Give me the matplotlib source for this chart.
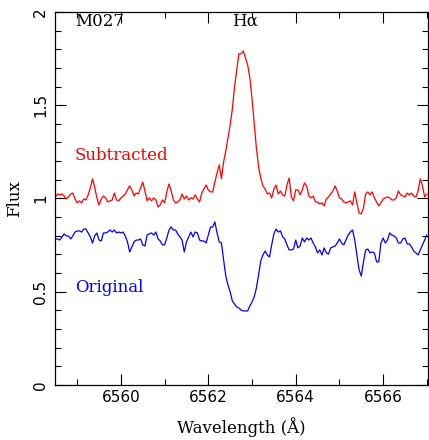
import numpy as np
import matplotlib
matplotlib.use('Agg')
import matplotlib.pyplot as plt
from matplotlib.ticker import MultipleLocator

# H-alpha profile of M027, sampled every 0.05 A
wave = np.arange(6558.50, 6567.001, 0.05)

flux_sub = [
    1.008, 1.024, 1.019, 1.024, 1.013, 0.997, 1.008, 1.024, 1.029, 0.997,
    0.976, 0.987, 0.976, 0.997, 0.992, 1.019, 1.056, 1.105, 1.062, 1.003,
    0.965, 0.997, 1.013, 1.003, 0.981, 0.987, 0.992, 1.029, 0.992, 0.987,
    1.003, 1.013, 1.024, 1.046, 1.067, 1.046, 1.013, 1.029, 1.024, 1.056,
    1.088, 1.040, 0.987, 1.003, 0.987, 1.003, 0.992, 0.954, 0.965, 0.992,
    0.976, 1.035, 1.078, 1.040, 0.992, 0.976, 0.981, 0.992, 1.024, 0.997,
    1.013, 0.992, 1.003, 0.997, 1.019, 0.997, 0.981, 1.029, 1.051, 1.072,
    1.046, 1.035, 1.035, 1.088, 1.137, 1.180, 1.105, 1.196, 1.255, 1.324,
    1.394, 1.480, 1.598, 1.689, 1.775, 1.775, 1.791, 1.753, 1.716, 1.646,
    1.534, 1.405, 1.271, 1.169, 1.110, 1.067, 1.051, 1.024, 1.029, 1.003,
    1.051, 1.072, 1.024, 1.040, 1.019, 1.013, 1.072, 1.110, 1.008, 0.987,
    1.046, 1.046, 1.019, 1.046, 1.083, 1.067, 1.013, 1.003, 1.013, 0.981,
    0.981, 0.970, 0.976, 0.960, 0.997, 1.008, 1.024, 1.040, 1.067, 1.040,
    1.003, 0.997, 0.981, 0.976, 0.981, 0.987, 0.965, 1.035, 0.976, 0.922,
    0.917, 0.949, 1.024, 1.035, 1.019, 1.035, 1.003, 0.981, 0.960, 0.976,
    0.997, 1.003, 1.008, 1.003, 0.992, 0.992, 1.003, 1.040, 1.019, 1.013,
    1.008, 1.029, 1.019, 1.029, 1.013, 1.008, 1.040, 1.105, 1.067, 1.008,
    1.024,
]

flux_orig = [
    0.783, 0.783, 0.777, 0.794, 0.810, 0.799, 0.799, 0.783, 0.799, 0.820,
    0.826, 0.826, 0.820, 0.836, 0.836, 0.815, 0.794, 0.761, 0.799, 0.815,
    0.777, 0.772, 0.815, 0.815, 0.820, 0.831, 0.820, 0.831, 0.815, 0.820,
    0.815, 0.820, 0.799, 0.767, 0.713, 0.740, 0.767, 0.777, 0.777, 0.783,
    0.751, 0.745, 0.804, 0.810, 0.815, 0.804, 0.820, 0.783, 0.772, 0.751,
    0.751, 0.788, 0.831, 0.847, 0.831, 0.831, 0.810, 0.794, 0.777, 0.713,
    0.767, 0.794, 0.820, 0.794, 0.820, 0.815, 0.777, 0.772, 0.772, 0.761,
    0.804, 0.847, 0.847, 0.874, 0.815, 0.767, 0.761, 0.670, 0.584, 0.536,
    0.499, 0.450, 0.434, 0.418, 0.413, 0.402, 0.397, 0.397, 0.397, 0.424,
    0.445, 0.472, 0.520, 0.590, 0.665, 0.697, 0.718, 0.697, 0.686, 0.751,
    0.810, 0.836, 0.820, 0.826, 0.794, 0.783, 0.751, 0.724, 0.724, 0.729,
    0.777, 0.735, 0.745, 0.788, 0.767, 0.788, 0.777, 0.788, 0.761, 0.740,
    0.708, 0.724, 0.697, 0.735, 0.708, 0.702, 0.735, 0.740, 0.745, 0.761,
    0.783, 0.761, 0.751, 0.777, 0.804, 0.820, 0.831, 0.777, 0.697, 0.617,
    0.584, 0.660, 0.724, 0.729, 0.708, 0.713, 0.708, 0.660, 0.660, 0.761,
    0.788, 0.761, 0.777, 0.815, 0.804, 0.799, 0.788, 0.761, 0.761, 0.783,
    0.788, 0.756, 0.756, 0.740, 0.718, 0.708, 0.697, 0.724, 0.751, 0.777,
    0.804,
]

serif = 'DejaVu Serif'

fig = plt.figure(figsize=(4.29, 4.40), dpi=100)
ax = fig.add_axes([0.128, 0.125, 0.869, 0.848])

ax.plot(wave, flux_sub, color='red', lw=0.9)
ax.plot(wave, flux_orig, color='blue', lw=0.9)

ax.set_xlim(6558.49, 6567.02)
ax.set_ylim(0, 2)

ax.xaxis.set_major_locator(MultipleLocator(2))
ax.xaxis.set_minor_locator(MultipleLocator(1))
ax.yaxis.set_major_locator(MultipleLocator(0.5))
ax.yaxis.set_minor_locator(MultipleLocator(0.1))
ax.yaxis.set_major_formatter(plt.FuncFormatter(lambda v, p: '%g' % v))
ax.tick_params(which='both', direction='in', top=True, right=True,
               labelsize=11, width=0.8)
ax.tick_params(which='major', length=8)
ax.tick_params(which='minor', length=4)
ax.tick_params(axis='y', which='major', pad=5)
for lab in ax.get_yticklabels():
    lab.set_rotation(90)
    lab.set_va('center')
for s in ax.spines.values():
    s.set_linewidth(0.9)

ax.set_xlabel('Wavelength (Å)', family=serif, fontsize=12, labelpad=9)
ax.set_ylabel('Flux', family=serif, fontsize=12, labelpad=7)

ax.text(6558.95, 1.95, 'M027', family=serif, fontsize=12, va='center')
ax.text(6562.83, 1.95, 'Hα', family=serif, fontsize=12,
        ha='center', va='center')
ax.text(6558.95, 1.23, 'Subtracted', family=serif, fontsize=12,
        color='red', va='center')
ax.text(6558.95, 0.525, 'Original', family=serif, fontsize=12,
        color='blue', va='center')

fig.savefig('out.png', dpi=100)
